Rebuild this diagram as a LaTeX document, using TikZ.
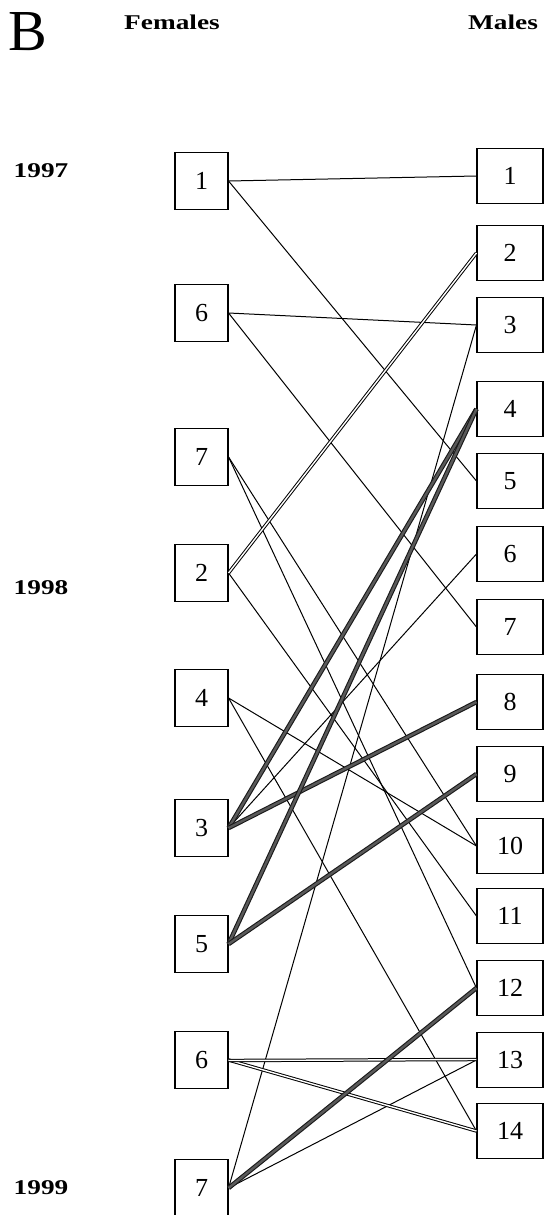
\documentclass[tikz,border=0pt]{standalone}
\usepackage{fontspec}
\setmainfont{Liberation Serif}
\usetikzlibrary{positioning}

\begin{document}
\begin{tikzpicture}[
  x=1pt, y=-1pt,
  fbox/.style={draw, line width=1.1pt, minimum width=53pt, minimum height=57pt,
               inner sep=0pt, font=\fontsize{26}{28}\selectfont},
  mbox/.style={fbox, minimum width=66pt, minimum height=55pt},
  hd/.style={font=\fontsize{21}{24}\selectfont\bfseries, xscale=1.3,
             inner sep=0pt},
  lk/.style={line width=1pt},
  dbl/.style={double, double distance=1.4pt, line width=1pt},
  hvy/.style={draw=black!90, double=black!65, double distance=2.4pt,
              line width=1.1pt},
]
  \useasboundingbox (0,0) rectangle (544,1215);

  %% headings and years
  \node[font=\fontsize{58}{60}\selectfont, inner sep=0pt] (lb) at (28,32) {B};
  \node[hd] (hf) at (172,22) {Females};
  \node[hd] (hm) at (503,22) {Males};
  \node[hd] (y97) at (41,171)  {1997};
  \node[hd] (y98) at (41,588)  {1998};
  \node[hd] (y99) at (41,1188) {1999};

  %% females
  \foreach \n/\t/\y in {f1/1/181, f6/6/313, f7/7/457, f2/2/573, f4/4/698,
                        f3/3/828, f5/5/944, f6b/6/1060, f7b/7/1188}
    \node[fbox] (\n) at (201.5,\y) {\t};

  %% males
  \foreach \t/\y in {1/176, 2/253, 3/325, 4/409, 5/481, 6/554, 7/627,
                     8/702, 9/774, 10/846, 11/916, 12/988, 13/1060, 14/1131}
    \node[mbox] (m\t) at (510,\y) {\t};

  %% thin links
  \foreach \a/\b in {f1/m1, f1/m5, f6/m3, f6/m7, f7/m10, f7/m12, f2/m11,
                     f4/m10, f4/m14, f3/m6, f7b/m13, f7b/m3}
    \draw[lk] (\a.east) -- (\b.west);

  %% double links
  \foreach \a/\b in {f2/m2, f6b/m14}
    \draw[dbl] (\a.east) -- (\b.west);
  \draw[dbl] ([yshift=-0.5pt]f6b.east) -- ([yshift=0.5pt]m13.west);

  %% heavy links
  \foreach \a/\b in {f3/m4, f3/m8, f5/m4, f5/m9, f7b/m12}
    \draw[hvy] (\a.east) -- (\b.west);
\end{tikzpicture}
\end{document}
